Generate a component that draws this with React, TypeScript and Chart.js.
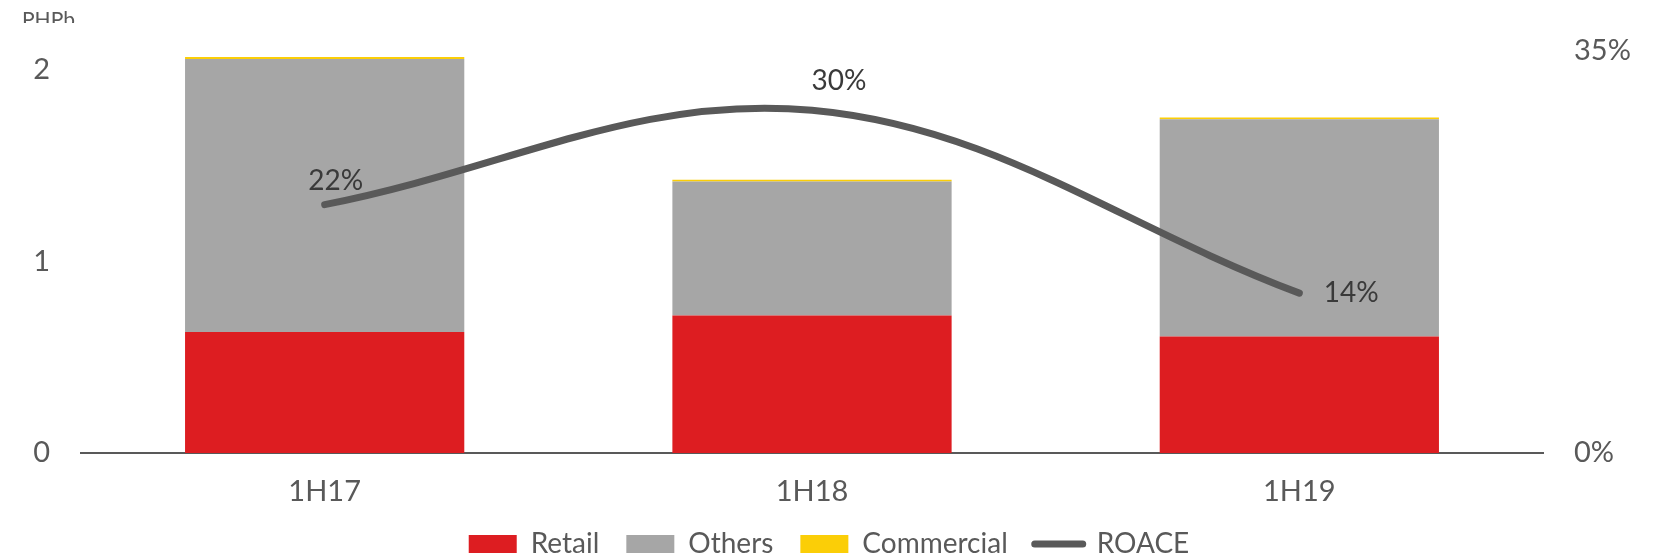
import React, { useEffect, useRef } from "react";
import { Chart, registerables } from "chart.js";

Chart.register(...registerables);

const categories = ["1H17", "1H18", "1H19"];
const retail = [0.631, 0.718, 0.608];
const others = [1.425, 0.698, 1.133];
const commercial = [0.01, 0.01, 0.01];
const roace = [21.6, 29.8, 13.9];
const leftTicks = [0, 1, 2];
const rightTicks = [0, 35];
const unitLabel = "PHPb";

const FONT = "Lato, 'Open Sans', sans-serif";
const AXIS_COLOR = "#595959";

const labelOffsets = [
  { dx: 11, dy: -24 },
  { dx: 27, dy: -29 },
  { dx: 52, dy: 0 },
];

const roaceLabels = {
  id: "roaceLabels",
  afterDatasetsDraw(chart: any) {
    const ctx = chart.ctx;
    const idx = chart.data.datasets.findIndex((d: any) => d.type === "line");
    const meta = chart.getDatasetMeta(idx);
    ctx.save();
    ctx.font = `28px ${FONT}`;
    ctx.fillStyle = "#3a3a3a";
    ctx.textAlign = "center";
    ctx.textBaseline = "middle";
    meta.data.forEach((pt: any, i: number) => {
      const v = chart.data.datasets[idx].data[i];
      const o = labelOffsets[i];
      ctx.fillText(`${Math.round(v)}%`, pt.x + o.dx, pt.y + o.dy);
    });
    ctx.restore();
  },
  afterDraw(chart: any) {
    const ctx = chart.ctx;
    ctx.save();
    ctx.beginPath();
    ctx.rect(0, 0, 200, 23);
    ctx.clip();
    ctx.font = `21px ${FONT}`;
    ctx.fillStyle = AXIS_COLOR;
    ctx.textAlign = "left";
    ctx.textBaseline = "alphabetic";
    ctx.fillText(unitLabel, 22, 27);
    ctx.restore();
  },
};

export default function App() {
  const ref = useRef<HTMLCanvasElement | null>(null);
  useEffect(() => {
    if (!ref.current) return;
    const chart = new Chart(ref.current, {
      type: "bar",
      data: {
        labels: categories,
        datasets: [
          {
            label: "Retail",
            data: retail,
            backgroundColor: "#DD1D21",
            yAxisID: "y",
            stack: "s",
            order: 1,
          },
          {
            label: "Others",
            data: others,
            backgroundColor: "#A6A6A6",
            yAxisID: "y",
            stack: "s",
            order: 1,
          },
          {
            label: "Commercial",
            data: commercial,
            backgroundColor: "#FBCE07",
            yAxisID: "y",
            stack: "s",
            order: 1,
          },
          {
            type: "line",
            label: "ROACE",
            data: roace,
            borderColor: "#595959",
            backgroundColor: "#595959",
            borderWidth: 7,
            borderCapStyle: "round",
            tension: 0.37,
            pointRadius: 0,
            yAxisID: "y1",
            order: 0,
            fill: false,
          },
        ],
      },
      options: {
        animation: false,
        responsive: true,
        maintainAspectRatio: false,
        layout: { padding: { top: 50.5, left: 0, right: 0, bottom: -8 } },
        datasets: {
          bar: { categoryPercentage: 1, barPercentage: 0.573, borderWidth: 0 },
        },
        plugins: {
          tooltip: { enabled: false },
          legend: {
            position: "bottom",
            labels: {
              usePointStyle: true,
              pointStyleWidth: 48,
              boxHeight: 18,
              padding: 27,
              color: AXIS_COLOR,
              font: { family: FONT, size: 28 },
              sort: (a: any, b: any) => a.datasetIndex - b.datasetIndex,
              generateLabels: (chart: any) => {
                const items = Chart.defaults.plugins.legend.labels.generateLabels(chart);
                return items.map((it: any) => {
                  const ds = chart.data.datasets[it.datasetIndex];
                  if (ds.type === "line") {
                    return { ...it, lineWidth: 7, lineCap: "round", strokeStyle: "#595959", pointStyle: "line" };
                  }
                  return { ...it, lineWidth: 0, pointStyle: "rect" };
                });
              },
            },
          },
        },
        scales: {
          x: {
            stacked: true,
            grid: { display: false, drawTicks: false },
            border: { display: true, color: AXIS_COLOR, width: 2 },
            ticks: { color: AXIS_COLOR, font: { family: FONT, size: 29 }, padding: 21 },
            afterFit: (s: any) => {
              s.height = 50;
            },
          },
          y: {
            stacked: true,
            position: "left",
            min: 0,
            max: 2.1,
            grid: { display: false, drawTicks: false },
            border: { display: false },
            ticks: { color: AXIS_COLOR, font: { family: FONT, size: 29 }, padding: 31 },
            afterBuildTicks: (s: any) => {
              s.ticks = leftTicks.map((v) => ({ value: v }));
            },
            afterFit: (s: any) => {
              s.width = 81;
            },
          },
          y1: {
            position: "right",
            min: 0,
            max: 35,
            grid: { display: false, drawTicks: false },
            border: { display: false },
            ticks: {
              color: AXIS_COLOR,
              font: { family: FONT, size: 29 },
              padding: 31,
              callback: (v: any) => `${v}%`,
            },
            afterBuildTicks: (s: any) => {
              s.ticks = rightTicks.map((v) => ({ value: v }));
            },
            afterFit: (s: any) => {
              s.width = 115;
            },
          },
        },
      },
      plugins: [roaceLabels],
    } as any);
    return () => chart.destroy();
  }, []);
  return (
    <div style={{ position: "absolute", left: 0, top: 0, width: 1658, height: 560, background: "#fff" }}>
      <canvas ref={ref} />
    </div>
  );
}
